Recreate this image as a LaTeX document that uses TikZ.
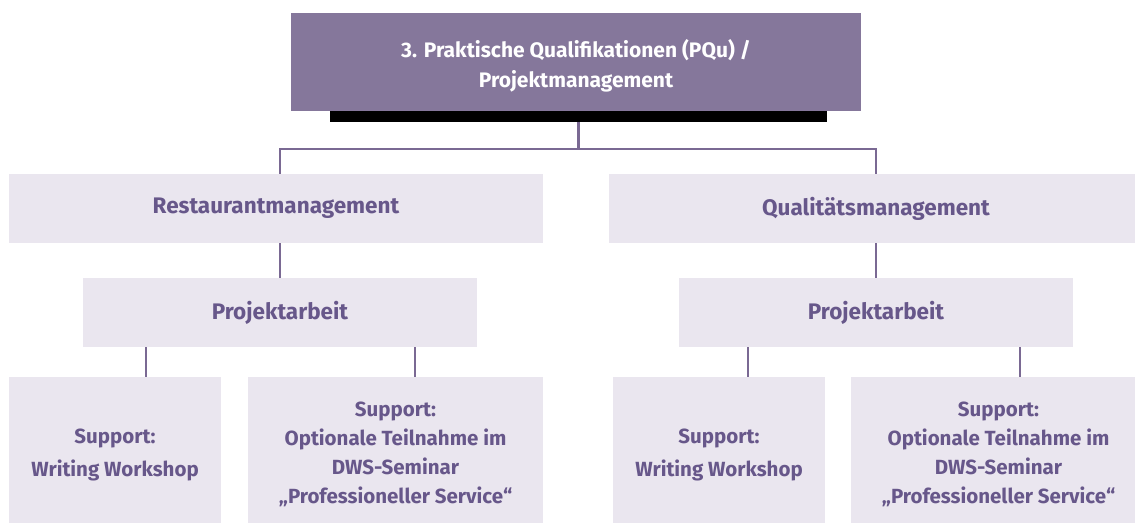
\documentclass[tikz,border=0pt]{standalone}
\usepackage{fontspec}
\setmainfont{Fira Sans}
\definecolor{topfill}{HTML}{85779B}
\definecolor{boxfill}{HTML}{EAE6EF}
\definecolor{txt}{HTML}{67578A}
\definecolor{conn}{HTML}{7A6993}
\begin{document}
\begin{tikzpicture}[x=1pt,y=1pt,
  lbox/.style={rectangle,fill=boxfill,inner sep=0pt,align=center,text=txt,font=\fontsize{22.5}{29}\selectfont\bfseries},
  sbox/.style={rectangle,fill=boxfill,inner sep=0pt},
  stext/.style={inner sep=0pt,align=center,text=txt,font=\fontsize{20.5}{29}\selectfont\bfseries},
  conline/.style={draw=conn,line width=2.5pt}]
\useasboundingbox (0,0) rectangle (1135,-523);
% top
\node[rectangle,fill=topfill,minimum width=570,minimum height=98,inner sep=0pt] (top) at (576,-62) {};
\node[inner sep=0pt,align=center,text=white,font=\fontsize{21}{30}\selectfont\bfseries] (toptext) at ([yshift=-3.5pt]top.center) {3. Praktische Qualifikationen (PQu) /\\Projektmanagement};
\node[rectangle,fill=black,minimum width=497,minimum height=11,inner sep=0pt] (bar) at (578.5,-116.5) {};
% level 2
\node[lbox,minimum width=534,minimum height=69] (l2L) at (276,-208.5) {Restaurantmanagement};
\node[lbox,minimum width=534,minimum height=69] (l2R) at (876,-208.5) {Qualitätsmanagement};
% level 3
\node[lbox,minimum width=394,minimum height=69] (pL) at (280,-312.5) {Projektarbeit};
\node[lbox,minimum width=394,minimum height=69] (pR) at (876,-312.5) {Projektarbeit};
% level 4
\node[sbox,minimum width=212,minimum height=146] (bL1) at (115,-450) {};
\node[sbox,minimum width=295,minimum height=146] (bL2) at (395.5,-450) {};
\node[sbox,minimum width=212,minimum height=146] (bR1) at (719,-450) {};
\node[sbox,minimum width=295,minimum height=146] (bR2) at (998.5,-450) {};
\node[stext] (tL1) at ([yshift=-5pt]bL1.center) {Support:\\[4pt]Writing Workshop};
\node[stext] (tL2) at ([yshift=-4pt]bL2.center) {Support:\\Optionale Teilnahme im\\DWS-Seminar\\„Professioneller Service“};
\node[stext] (tR1) at ([yshift=-5pt]bR1.center) {Support:\\[4pt]Writing Workshop};
\node[stext] (tR2) at ([yshift=-4pt]bR2.center) {Support:\\Optionale Teilnahme im\\DWS-Seminar\\„Professioneller Service“};
% connectors
\coordinate (hub) at (578.5,-149);
\draw[conline] (bar.south) -- (hub);
\draw[conline] (pL.north |- l2L.north) |- (hub) -| (l2R.north);
\draw[conline] (pL.north |- l2L.south) -- (pL.north);
\draw[conline] (pR.north |- l2R.south) -- (pR.north);
\draw[conline] (146,0 |- pL.south) -- (146,0 |- bL1.north);
\draw[conline] (415,0 |- pL.south) -- (415,0 |- bL2.north);
\draw[conline] (748,0 |- pR.south) -- (748,0 |- bR1.north);
\draw[conline] (1020,0 |- pR.south) -- (1020,0 |- bR2.north);
\end{tikzpicture}
\end{document}
